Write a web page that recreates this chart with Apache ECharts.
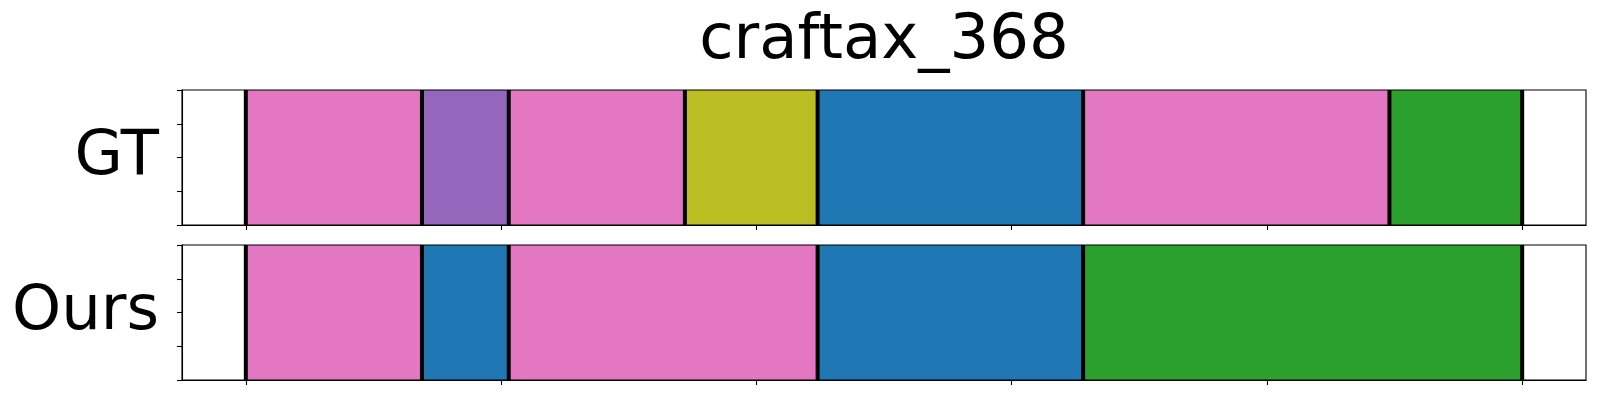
<!DOCTYPE html>
<html><head><meta charset="utf-8">
<script src="https://cdn.jsdelivr.net/npm/echarts@6/dist/echarts.min.js"></script>
<style>html,body{margin:0;padding:0;background:#fff}#c{width:1600px;height:400px}</style>
</head><body><div id="c"></div>
<script>
const chartTitle = 'craftax_368';
const rowLabels = ['GT', 'Ours'];
const classNames = ['pink', 'purple', 'olive', 'blue', 'green'];
const classColors = ['#e377c2', '#9467bd', '#bcbd22', '#1f77b4', '#2ca02c'];
const gtBoundaries = [0, 69, 103, 172, 224, 328, 448, 500];
const gtClasses = [0, 1, 0, 2, 3, 0, 4];
const oursBoundaries = [0, 69, 103, 224, 328, 500];
const oursClasses = [0, 3, 0, 3, 4];
const xTicks = [0, 100, 200, 300, 400, 500];
const yTicks = [0, 0.25, 0.5, 0.75, 1];
const xMin = -25, xMax = 525;

function segData(bounds, classes) {
  return classes.map((c, i) => [bounds[i], bounds[i + 1], c]);
}
function segRender(params, api) {
  const p0 = api.coord([api.value(0), 1]);
  const p1 = api.coord([api.value(1), 0]);
  return { type: 'rect', shape: { x: p0[0], y: p0[1], width: p1[0] - p0[0], height: p1[1] - p0[1] },
    style: { fill: classColors[api.value(2)] } };
}
function lineRender(params, api) {
  const p0 = api.coord([api.value(0), 0]);
  const p1 = api.coord([api.value(0), 1]);
  return { type: 'line', shape: { x1: p0[0], y1: p0[1], x2: p1[0], y2: p1[1] },
    style: { stroke: '#000', lineWidth: 4 } };
}
const grids = [
  { left: 182, width: 1404, top: 90, height: 135 },
  { left: 182, width: 1404, top: 245, height: 135 }
];
const font = 'DejaVu Sans';
const option = {
  animation: false,
  backgroundColor: '#fff',
  title: { text: chartTitle, left: 879, textAlign: 'center', top: 5,
    textStyle: { fontSize: 62.5, fontWeight: 'normal', color: '#000', fontFamily: font } },
  grid: grids.map(g => Object.assign({ show: true, borderColor: '#000', borderWidth: 1.1, backgroundColor: 'transparent', z: 10 }, g)),
  xAxis: grids.map((g, i) => ({
    type: 'value', gridIndex: i, min: xMin, max: xMax,
    axisLine: { show: true, onZero: false, lineStyle: { color: '#000', width: 1.1 } },
    axisTick: { show: true, length: 5, customValues: xTicks, lineStyle: { color: '#000', width: 1.1 } },
    axisLabel: { show: false, customValues: xTicks },
    splitLine: { show: false }
  })),
  yAxis: grids.map((g, i) => ({
    type: 'value', gridIndex: i, min: 0, max: 1, interval: 0.25,
    name: rowLabels[i], nameLocation: 'middle', nameRotate: 0, nameGap: 23,
    nameTextStyle: { fontSize: 62.5, color: '#000', fontFamily: font, align: 'right', verticalAlign: 'middle' },
    axisLine: { show: true, onZero: false, lineStyle: { color: '#000', width: 1.1 } },
    axisTick: { show: true, length: 5, lineStyle: { color: '#000', width: 1.1 } },
    axisLabel: { show: false },
    splitLine: { show: false }
  })),
  series: [
    { type: 'custom', xAxisIndex: 0, yAxisIndex: 0, renderItem: segRender, data: segData(gtBoundaries, gtClasses), encode: { x: [0, 1] } },
    { type: 'custom', xAxisIndex: 0, yAxisIndex: 0, renderItem: lineRender, data: gtBoundaries.map(b => [b]), encode: { x: 0 } },
    { type: 'custom', xAxisIndex: 1, yAxisIndex: 1, renderItem: segRender, data: segData(oursBoundaries, oursClasses), encode: { x: [0, 1] } },
    { type: 'custom', xAxisIndex: 1, yAxisIndex: 1, renderItem: lineRender, data: oursBoundaries.map(b => [b]), encode: { x: 0 } }
  ]
};
const chart = echarts.init(document.getElementById('c'), null, { renderer: 'canvas' });
chart.setOption(option);
</script>
</body></html>
